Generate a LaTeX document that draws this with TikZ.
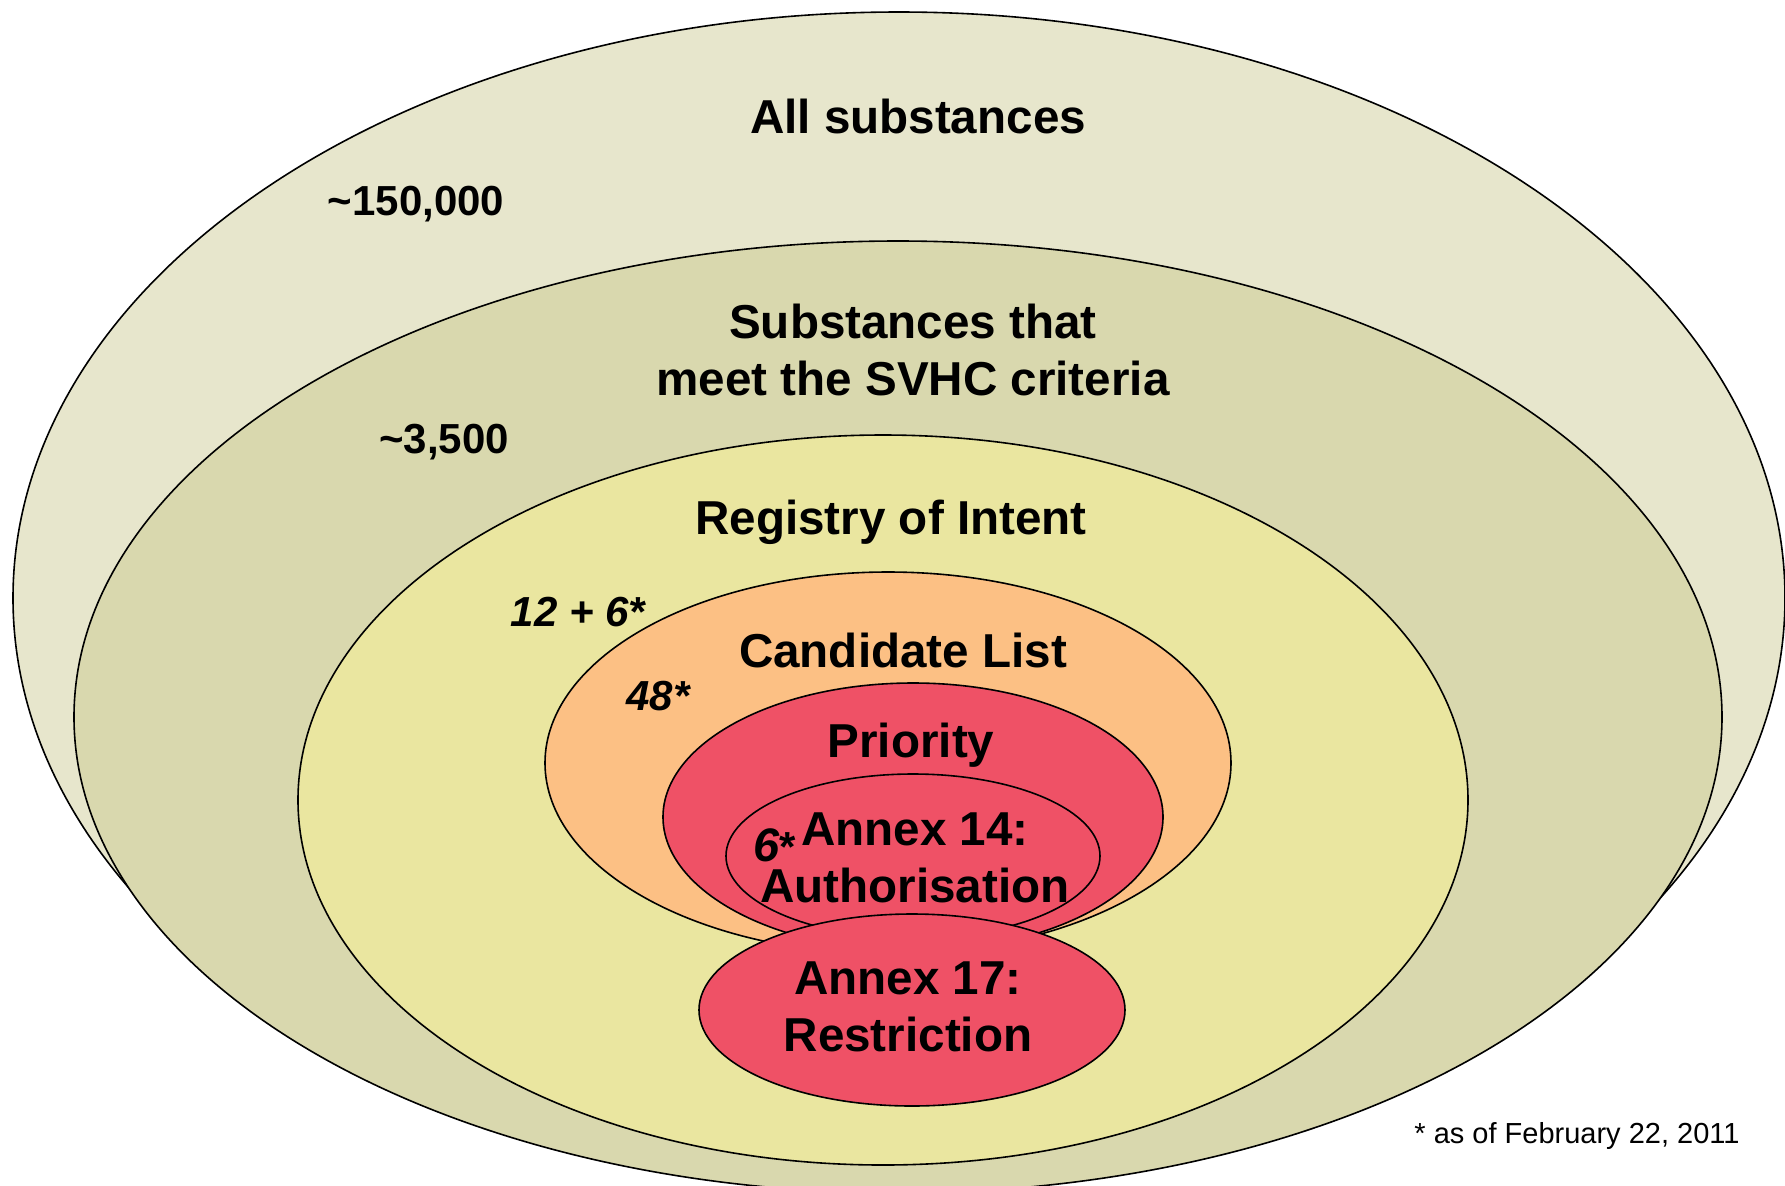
\documentclass[tikz,border=0pt]{standalone}
\usepackage{fontspec}
\setmainfont{Liberation Sans}
\usetikzlibrary{shapes.geometric}
\definecolor{cOuter}{HTML}{E7E6CC}
\definecolor{cSvhc}{HTML}{D9D8AE}
\definecolor{cReg}{HTML}{EAE6A0}
\definecolor{cCand}{HTML}{FCC084}
\definecolor{cRed}{HTML}{EF5166}
\begin{document}
\begin{tikzpicture}[x=0.5pt,y=-0.5pt,
  ell/.style={draw, ellipse, inner sep=0pt, line width=0.8pt},
  lbl/.style={font=\fontsize{23.8}{28.5}\selectfont\bfseries, align=center, inner sep=0pt},
  num/.style={font=\fontsize{21}{25}\selectfont\bfseries, inner sep=0pt},
  inum/.style={font=\fontsize{21}{25}\selectfont\bfseries\itshape, inner sep=0pt},
  note/.style={font=\fontsize{14.5}{17}\selectfont, inner sep=0pt}]
\useasboundingbox (0,0) rectangle (1785,1185);
\clip (0,0) rectangle (1785,1185);
\node[ell, fill=cOuter, minimum width=886pt, minimum height=586pt] (all) at (899,598) {};
\node[ell, fill=cSvhc, minimum width=824pt, minimum height=476pt] (svhc) at (898,717) {};
\node[ell, fill=cReg, minimum width=585pt, minimum height=365pt] (reg) at (883,800) {};
\node[ell, fill=cCand, minimum width=343pt, minimum height=191pt] (cand) at (888,763) {};
\node[ell, fill=cRed, minimum width=250pt, minimum height=134pt] (prio) at (913,817) {};
\node[ell, fill=cRed, minimum width=187pt, minimum height=82pt] (ax14) at (913,856) {};
\node[ell, fill=cRed, minimum width=213pt, minimum height=96pt] (ax17) at (912,1010) {};

\node[lbl] (tAll) at (918,116) {All substances};
\node[num] (n150) at (416,204) {\textasciitilde150,000};
\node[lbl] (tSvhc) at (913,350) {Substances that\\meet the SVHC criteria};
\node[num] (n3500) at (444,442) {\textasciitilde3,500};
\node[lbl] (tReg) at (891,522) {Registry of Intent};
\node[inum] (n12) at (578,612) {12 + 6*};
\node[lbl] (tCand) at (903,650) {Candidate List};
\node[inum] (n48) at (658,696) {48*};
\node[lbl] (tPrio) at (911,745) {Priority};
\node[inum] (n6) at (775,845) {\fontsize{23.5}{25}\selectfont 6\upshape\fontsize{21}{25}\selectfont*};
\node[lbl, anchor=base] (tAx14a) at (915,845) {Annex 14:};
\node[lbl, anchor=base] (tAx14b) at (915,902) {Authorisation};
\node[lbl] (tAx17) at (908,1007) {Annex 17:\\Restriction};
\node[note] (tNote) at (1577,1136) {* as of February 22, 2011};
\end{tikzpicture}
\end{document}
